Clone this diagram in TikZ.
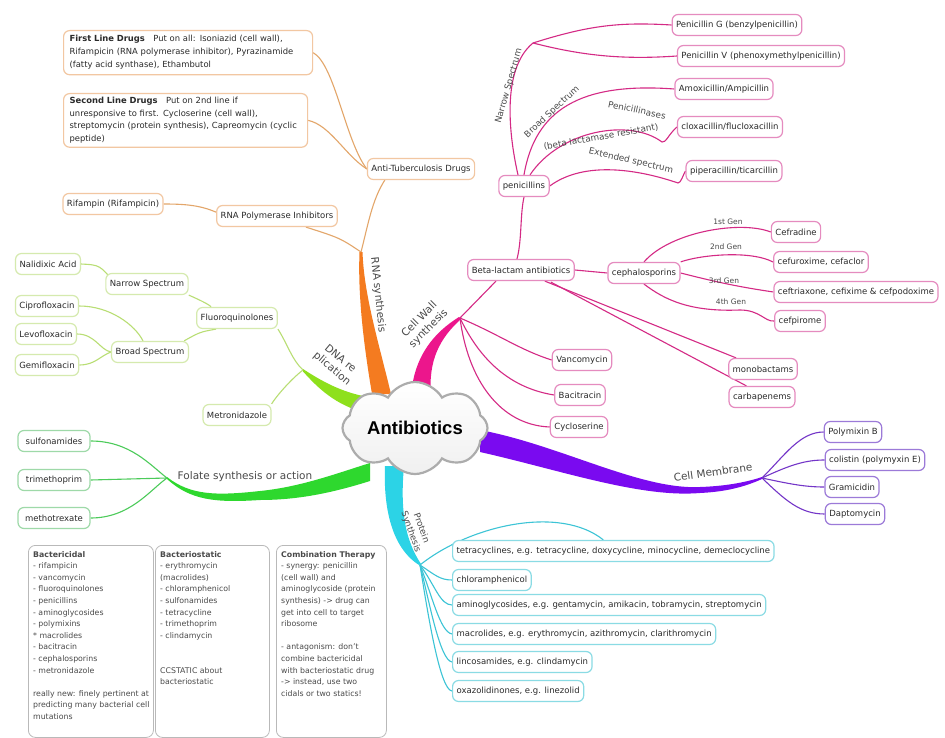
\documentclass[tikz,border=0pt]{standalone}
\usepackage{fontspec}
\setmainfont{DejaVu Sans}
\newfontfamily\titlefont{Liberation Sans}
\usetikzlibrary{shapes.symbols,calc,backgrounds}
\definecolor{pkT}{HTML}{EC168C}
\definecolor{pkL}{HTML}{D42A85}
\definecolor{pkB}{HTML}{E58BBF}
\definecolor{puT}{HTML}{7A0AF0}
\definecolor{puL}{HTML}{7436C8}
\definecolor{puB}{HTML}{9C7AD8}
\definecolor{cyT}{HTML}{2CD3E6}
\definecolor{cyL}{HTML}{3CC4D6}
\definecolor{cyB}{HTML}{8ADBE4}
\definecolor{grT}{HTML}{2ED82E}
\definecolor{grL}{HTML}{4CCB5A}
\definecolor{grB}{HTML}{9ED9A8}
\definecolor{liT}{HTML}{8EE01C}
\definecolor{liL}{HTML}{B9DE74}
\definecolor{liB}{HTML}{D5EAAE}
\definecolor{orT}{HTML}{F47B20}
\definecolor{orL}{HTML}{E3A66A}
\definecolor{orB}{HTML}{F2C7A2}
\definecolor{txt}{HTML}{2A2A2A}
\tikzset{
  leaf/.style={draw, rounded corners=6pt, fill=white, line width=1.2pt, inner xsep=4pt, inner ysep=0pt,
    minimum height=21pt, text=txt, font=\fontsize{8.5}{10}\selectfont},
  pk/.style={leaf, draw=pkB},
  pu/.style={leaf, draw=puB},
  cy/.style={leaf, draw=cyB},
  gr/.style={leaf, draw=grB, minimum width=72pt},
  li/.style={leaf, draw=liB},
  orn/.style={leaf, draw=orB},
  conn/.style={line width=1.1pt},
  lbl/.style={inner sep=0pt, text=txt!85, font=\fontsize{8.8}{9.5}\selectfont},
  blbl/.style={inner sep=0pt, text=txt!85, font=\fontsize{10.5}{11}\selectfont},
  glbl/.style={inner sep=0pt, text=txt!85, font=\fontsize{7.5}{8}\selectfont},
  tbox/.style={draw=gray!55, line width=0.8pt, rounded corners=7pt, fill=white, inner sep=0pt},
  ttext/.style={inner sep=0pt, align=left, text=txt!85, font=\fontsize{7.8}{11.6}\selectfont, anchor=north west},
}
\begin{document}
\begin{tikzpicture}[x=1pt,y=-1pt]
\useasboundingbox (0,0) rectangle (945,738);

% ---------- centre ----------
\node[cloud, cloud puffs=8, cloud puff arc=120, cloud ignores aspect, draw=gray!65, line width=2.2pt,
      top color=white, bottom color=gray!12, minimum width=145pt, minimum height=92pt, inner sep=0pt] (C) at (415,428)
      {\titlefont\bfseries\fontsize{18.5}{20}\selectfont Antibiotics};

% ---------- junctions ----------
\coordinate (jR) at (361,252);
\coordinate (jCW) at (460,318);
\coordinate (jD) at (303,370);
\coordinate (jF) at (167,478);
\coordinate (jPS) at (420,565);
\coordinate (jCM) at (762,478);
\coordinate (jN) at (533,43);

% ---------- magenta: cell wall ----------
\node[pk] (penG) at (737,25) {Penicillin G (benzylpenicillin)};
\node[pk] (penV) at (761,56) {Penicillin V (phenoxymethylpenicillin)};
\node[pk] (amox) at (724,89) {Amoxicillin/Ampicillin};
\node[pk] (clox) at (730,127) {cloxacillin/flucloxacillin};
\node[pk] (pip) at (734,171) {piperacillin/ticarcillin};
\node[pk] (pen) at (524,186) {penicillins};
\node[pk] (beta) at (521,270) {Beta-lactam antibiotics};
\node[pk] (ceph) at (644,273) {cephalosporins};
\node[pk] (cef1) at (796,232) {Cefradine};
\node[pk] (cef2) at (821,262) {cefuroxime, cefaclor};
\node[pk] (cef3) at (856,292) {ceftriaxone, cefixime \& cefpodoxime};
\node[pk] (cef4) at (800,321) {cefpirome};
\node[pk] (mono) at (763,369) {monobactams};
\node[pk] (carba) at (762,397) {carbapenems};
\node[pk] (vanc) at (582,360) {Vancomycin};
\node[pk] (baci) at (580,395) {Bacitracin};
\node[pk] (cyclo) at (579,427) {Cycloserine};

\node[lbl, rotate=74] (lNarrow) at (509,86) {Narrow Spectrum};
\node[lbl, rotate=43] (lBroad) at (552,112) {Broad Spectrum};
\node[lbl, rotate=-12] (lPase) at (637,110) {Penicillinases};
\node[lbl, rotate=10] (lBeta) at (601,137) {(beta lactamase resistant)};
\node[lbl, rotate=-13] (lExt) at (631,161) {Extended spectrum};
\node[glbl] (g1) at (728,222) {1st Gen};
\node[glbl] (g2) at (726,247) {2nd Gen};
\node[glbl] (g3) at (724,281) {3rd Gen};
\node[glbl] (g4) at (731,302) {4th Gen};
\node[blbl, rotate=45, align=center, font=\fontsize{10.5}{13}\selectfont] (lCW) at (424,324) {Cell Wall\\synthesis};

% ---------- purple: cell membrane ----------
\node[pu] (poly) at (853,432) {Polymixin B};
\node[pu] (coli) at (875,460) {colistin (polymyxin E)};
\node[pu] (gram) at (852,487) {Gramicidin};
\node[pu] (dapto) at (855,514) {Daptomycin};
\node[blbl, rotate=8] (lCM) at (713,472) {Cell Membrane};

% ---------- cyan: protein synthesis ----------
\node[cy, anchor=west] (tetra) at (452,551) {tetracyclines, e.g. tetracycline, doxycycline, minocycline, demeclocycline};
\node[cy, anchor=west] (chlor) at (452,580) {chloramphenicol};
\node[cy, anchor=west] (amino) at (452,605) {aminoglycosides, e.g. gentamycin, amikacin, tobramycin, streptomycin};
\node[cy, anchor=west] (macro) at (452,634) {macrolides, e.g. erythromycin, azithromycin, clarithromycin};
\node[cy, anchor=west] (linco) at (452,662) {lincosamides, e.g. clindamycin};
\node[cy, anchor=west] (oxa) at (452,691) {oxazolidinones, e.g. linezolid};
\node[lbl, rotate=-70, align=center, font=\fontsize{8.8}{11}\selectfont] (lPS) at (416,530) {Protein\\Synthesis};

% ---------- green: folate ----------
\node[gr] (sulf) at (54,441) {sulfonamides};
\node[gr] (tmp) at (54,480) {trimethoprim};
\node[gr] (mtx) at (54,518) {methotrexate};
\node[blbl] (lF) at (245,477) {Folate synthesis or action};

% ---------- lime: DNA replication ----------
\node[li] (nal) at (48,264) {Nalidixic Acid};
\node[li] (cipro) at (47,306) {Ciprofloxacin};
\node[li] (levo) at (46,334) {Levofloxacin};
\node[li] (gemi) at (47,365) {Gemifloxacin};
\node[li] (narrow) at (147,284) {Narrow Spectrum};
\node[li] (broad) at (150,352) {Broad Spectrum};
\node[li] (fluoro) at (237,318) {Fluoroquinolones};
\node[li] (metro) at (237,415) {Metronidazole};
\node[blbl, rotate=-40, align=center, font=\fontsize{10.5}{13}\selectfont] (lD) at (336,364) {DNA re\\plication};

% ---------- orange: RNA synthesis ----------
\node[orn] (rif) at (113,204) {Rifampin (Rifampicin)};
\node[orn] (rnap) at (277,216) {RNA Polymerase Inhibitors};
\node[orn] (antitb) at (421,169) {Anti-Tuberculosis Drugs};
\node[orn, anchor=north west, align=left, inner xsep=6pt, inner ysep=5pt, text width=237pt,
      font=\fontsize{8.4}{13}\selectfont] (first) at (63,30)
      {\textbf{First Line Drugs}\quad Put on all: Isoniazid (cell wall),\\Rifampicin (RNA polymerase inhibitor), Pyrazinamide\\(fatty acid synthase), Ethambutol};
\node[orn, anchor=north west, align=left, inner xsep=6pt, inner ysep=4pt, text width=232pt,
      font=\fontsize{8.4}{12.5}\selectfont] (second) at (63,93)
      {\textbf{Second Line Drugs}\quad Put on 2nd line if\\unresponsive to first. Cycloserine (cell wall),\\streptomycin (protein synthesis), Capreomycin (cyclic\\peptide)};
\node[blbl, rotate=-84] (lR) at (378,295) {RNA synthesis};

% ---------- bottom notes ----------
\node[tbox, anchor=north west, minimum width=125pt, minimum height=192pt] (bc) at (28,545) {};
\node[ttext] (bcT) at ($(bc.north west)+(5,6)$)
  {\textbf{Bactericidal}\\- rifampicin\\- vancomycin\\- fluoroquinolones\\- penicillins\\- aminoglycosides\\- polymixins\\* macrolides\\- bacitracin\\- cephalosporins\\- metronidazole\\[11.6pt]really new: finely pertinent at\\predicting many bacterial cell\\mutations};
\node[tbox, anchor=north west, minimum width=114pt, minimum height=192pt] (bs) at (155,545) {};
\node[ttext] (bsT) at ($(bs.north west)+(5,6)$)
  {\textbf{Bacteriostatic}\\- erythromycin\\(macrolides)\\- chloramphenicol\\- sulfonamides\\- tetracycline\\- trimethoprim\\- clindamycin\\[23.2pt]CCSTATIC about\\bacteriostatic};
\node[tbox, anchor=north west, minimum width=110pt, minimum height=192pt] (ct) at (276,545) {};
\node[ttext] (ctT) at ($(ct.north west)+(5,6)$)
  {\textbf{Combination Therapy}\\- synergy: penicillin\\(cell wall) and\\aminoglycoside (protein\\synthesis) -> drug can\\get into cell to target\\ribosome\\[11.6pt]- antagonism: don't\\combine bactericidal\\with bacteriostatic drug\\-> instead, use two\\cidals or two statics!};

% ================= background: branches =================
\begin{scope}[on background layer]
\fill[white] (0,0) rectangle (945,738);

% thick tapered trunks
\fill[orT] (372,394) .. controls (362,335) and (358,290) .. ($(jR)+(-1.5,0)$) -- ($(jR)+(1.5,0)$)
   .. controls (364,295) and (378,340) .. (391,394) -- cycle;
\fill[pkT] (411,396) .. controls (414,355) and (435,332) .. ($(jCW)+(-1,-1)$) -- ($(jCW)+(1,1)$)
   .. controls (440,338) and (428,360) .. (431,396) -- cycle;
\fill[liT] ($(jD)+(0,-1)$) .. controls (320,380) and (340,392) .. (368,397) -- (366,413)
   .. controls (335,405) and (318,388) .. ($(jD)+(0,1.5)$) -- cycle;
\fill[grT] ($(jF)+(0,-1)$) .. controls (190,495) and (215,496) .. (260,491) .. controls (300,487) and (335,474) .. (370,463)
   -- (370,481) .. controls (335,492) and (300,500) .. (260,500) .. controls (215,503) and (190,500) .. ($(jF)+(0,1)$) -- cycle;
\fill[cyT] (385,466) .. controls (383,515) and (395,550) .. ($(jPS)+(-1,0)$) -- ($(jPS)+(1,-1)$)
   .. controls (405,540) and (400,510) .. (404,466) -- cycle;
\fill[puT] (480,430) .. controls (560,445) and (640,490) .. (700,487) .. controls (730,486) and (750,481) .. ($(jCM)+(0,-1)$)
   -- ($(jCM)+(0,1)$) .. controls (740,489) and (720,492) .. (700,493) .. controls (640,498) and (560,470) .. (480,452) -- cycle;

% magenta connectors
\begin{scope}[conn, draw=pkL]
\draw ($(beta.south)+(-25,0)$) -- (jCW);
\draw (jCW) .. controls (500,335) and (520,350) .. (vanc.west);
\draw (jCW) .. controls (480,360) and (510,388) .. (baci.west);
\draw (jCW) .. controls (468,380) and (500,425) .. (cyclo.west);
\draw ($(beta.north)+(-4,0)$) .. controls (522,240) and (520,215) .. (pen.south);
\draw ($(pen.north)+(-6,0)$) .. controls (510,140) and (500,70) .. (jN);
\draw (jN) .. controls (590,25) and (620,22) .. (penG.west);
\draw (jN) .. controls (580,55) and (620,60) .. (penV.west);
\draw ($(pen.north)+(0,0)$) .. controls (535,110) and (580,82) .. (amox.west);
\draw ($(pen.north)+(6,0)$) .. controls (560,130) and (630,118) .. (662,142) .. controls (666,143) and (668,135) .. (clox.west);
\draw (pen.east) .. controls (585,160) and (640,170) .. (678,183) .. controls (681,183) and (683,175) .. (pip.west);
\draw (beta.east) -- (ceph.west);
\draw (ceph.north) .. controls (670,232) and (740,220) .. (cef1.west);
\draw (ceph.north east) .. controls (700,255) and (750,250) .. (cef2.west);
\draw (ceph.east) .. controls (720,283) and (740,287) .. (cef3.west);
\draw (ceph.south) .. controls (665,300) and (690,312) .. (740,310) .. controls (760,310) and (765,322) .. (cef4.west);
\draw ($(beta.south east)+(-30,0)$) -- ($(mono.north west)+(8,0)$);
\draw ($(beta.south east)+(-24,1)$) -- ($(carba.north west)+(18,0)$);
\end{scope}

% purple connectors
\begin{scope}[conn, draw=puL]
\draw (jCM) .. controls (785,455) and (800,432) .. (poly.west);
\draw (jCM) .. controls (790,465) and (805,460) .. (coli.west);
\draw (jCM) .. controls (790,484) and (805,487) .. (gram.west);
\draw (jCM) .. controls (785,500) and (800,514) .. (dapto.west);
\end{scope}

% cyan connectors
\begin{scope}[conn, draw=cyL]
\draw (jPS) .. controls (470,525) and (560,505) .. ($(tetra.north)+(-10,0)$);
\draw (jPS) .. controls (435,575) and (440,580) .. (chlor.west);
\draw (jPS) .. controls (435,585) and (440,605) .. (amino.west);
\draw (jPS) .. controls (432,595) and (440,632) .. (macro.west);
\draw (jPS) .. controls (430,605) and (440,660) .. (linco.west);
\draw (jPS) .. controls (428,615) and (440,690) .. (oxa.west);
\end{scope}

% green connectors
\begin{scope}[conn, draw=grL]
\draw (sulf.east) .. controls (130,441) and (150,465) .. (jF);
\draw (tmp.east) -- (jF);
\draw (mtx.east) .. controls (130,518) and (150,490) .. (jF);
\end{scope}

% lime connectors
\begin{scope}[conn, draw=liL]
\draw (fluoro.south east) .. controls (288,345) and (292,360) .. (jD);
\draw (metro.north east) .. controls (275,398) and (290,380) .. (jD);
\draw (narrow.south east) .. controls (200,300) and (210,305) .. ($(fluoro.north west)+(15,0)$);
\draw (nal.east) .. controls (100,265) .. ($(narrow.west)+(10,0)$);
\draw ($(broad.north east)+(-5,0)$) .. controls (200,332) .. ($(fluoro.south west)+(20,0)$);
\draw (cipro.east) .. controls (110,306) and (135,325) .. ($(broad.north)+(-7,0)$);
\draw (levo.east) .. controls (95,334) and (100,350) .. (broad.west);
\draw (gemi.east) .. controls (95,365) and (100,356) .. (broad.west);
\end{scope}

% orange connectors
\begin{scope}[conn, draw=orL]
\draw (rif.east) .. controls (190,204) and (205,206) .. ($(rnap.west)+(8,0)$);
\draw ($(rnap.south east)+(-32,0)$) .. controls (340,238) .. (jR);
\draw (jR) .. controls (368,225) and (372,200) .. ($(antitb.south west)+(18,0)$);
\draw (first.east) .. controls (335,65) and (345,140) .. (antitb.west);
\draw (second.east) .. controls (330,125) and (345,155) .. (antitb.west);
\end{scope}
\end{scope}
\end{tikzpicture}
\end{document}
